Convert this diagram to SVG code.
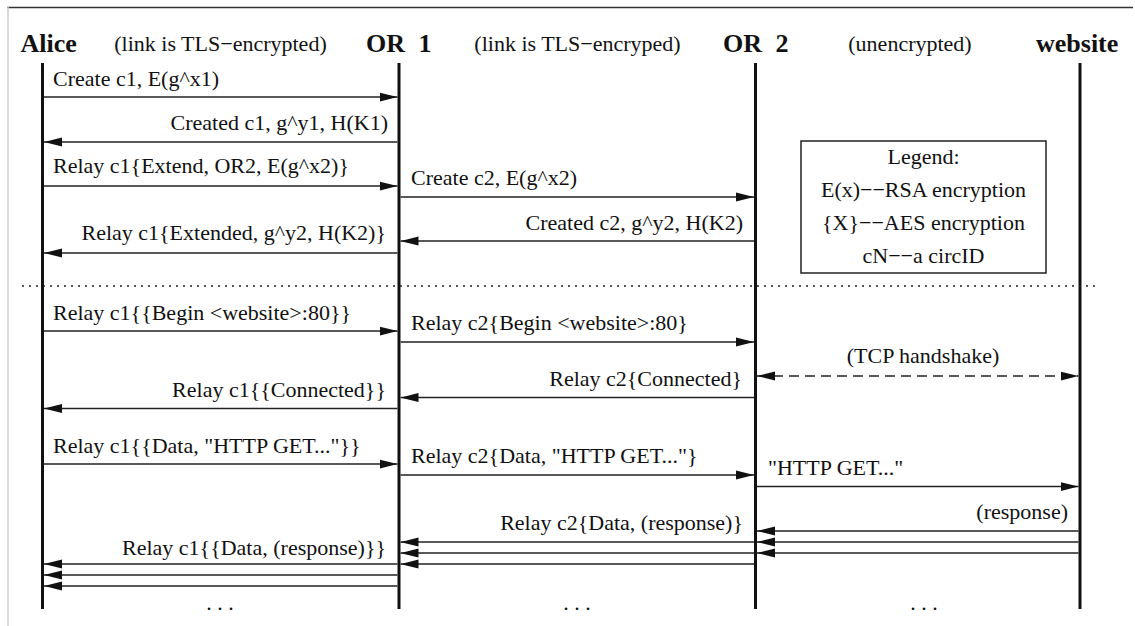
<svg xmlns="http://www.w3.org/2000/svg" width="1135" height="626" viewBox="0 0 1135 626">
  <style>
    text { font-family: "Liberation Serif", "Times New Roman", serif; fill: #111; }
    .hdr { font-size: 26px; font-weight: bold; }
    .note { font-size: 22px; }
    .lbl { font-size: 22px; }
    .end { text-anchor: end; }
    .mid { text-anchor: middle; }
    .life { stroke: #111; stroke-width: 3; }
    .msg { stroke: #222; stroke-width: 1.6; fill: none; marker-end: url(#head); }
    .dash { stroke: #222; stroke-width: 1.6; fill: none; stroke-dasharray: 10 6; marker-start: url(#head); marker-end: url(#head); }
  </style>
  <defs>
    <marker id="head" markerUnits="userSpaceOnUse" markerWidth="18" markerHeight="10" refX="18" refY="5" orient="auto-start-reverse">
      <path d="M0,0.5 L18,5 L0,9.5 z" fill="#111"/>
    </marker>
  </defs>

  <rect width="1135" height="626" fill="#fff"/>
  <!-- page frame -->
  <line x1="7" y1="7.5" x2="1133" y2="7.5" stroke="#333" stroke-width="1.5"/>
  <line x1="8" y1="7" x2="8" y2="626" stroke="#ccc" stroke-width="1.5"/>

  <!-- participants -->
  <g id="alice">
    <text class="hdr" x="20.5" y="51.5">Alice</text>
    <line class="life" x1="42.5" y1="63" x2="42.5" y2="609"/>
  </g>
  <g id="or1">
    <text class="hdr" x="366" y="51.5" word-spacing="7">OR 1</text>
    <line class="life" x1="399" y1="63" x2="399" y2="609"/>
  </g>
  <g id="or2">
    <text class="hdr" x="723" y="51.5" word-spacing="7">OR 2</text>
    <line class="life" x1="755.5" y1="63" x2="755.5" y2="609"/>
  </g>
  <g id="website">
    <text class="hdr" x="1036" y="51.5">website</text>
    <line class="life" x1="1080" y1="63" x2="1080" y2="609"/>
  </g>

  <!-- link annotations -->
  <g id="links">
    <text class="note mid" x="220.5" y="51">(link is TLS−encrypted)</text>
    <text class="note mid" x="577.5" y="51">(link is TLS−encryped)</text>
    <text class="note mid" x="910" y="51">(unencrypted)</text>
  </g>

  <!-- legend -->
  <g id="legend">
    <rect x="801" y="141" width="245" height="132" fill="#fff" stroke="#222" stroke-width="1.5"/>
    <text class="lbl mid" x="923.5" y="164">Legend:</text>
    <text class="lbl mid" x="923.5" y="197">E(x)−−RSA encryption</text>
    <text class="lbl mid" x="923.5" y="230">{X}−−AES encryption</text>
    <text class="lbl mid" x="923.5" y="263">cN−−a circID</text>
  </g>

  <!-- phase separator -->
  <line x1="22" y1="286" x2="1097" y2="286" stroke="#222" stroke-width="1.5" stroke-dasharray="2 5"/>

  <!-- messages -->
  <g id="connectors">
    <line class="msg" x1="44" y1="97" x2="397.5" y2="97"/>
    <line class="msg" x1="397.5" y1="142" x2="44" y2="142"/>
    <line class="msg" x1="44" y1="186" x2="397.5" y2="186"/>
    <line class="msg" x1="400.5" y1="197" x2="754" y2="197"/>
    <line class="msg" x1="754" y1="241" x2="400.5" y2="241"/>
    <line class="msg" x1="397.5" y1="253" x2="44" y2="253"/>

    <line class="msg" x1="44" y1="331" x2="397.5" y2="331"/>
    <line class="msg" x1="400.5" y1="342" x2="754" y2="342"/>
    <line class="dash" x1="757" y1="376" x2="1078.5" y2="376"/>
    <line class="msg" x1="754" y1="397.5" x2="400.5" y2="397.5"/>
    <line class="msg" x1="397.5" y1="408.5" x2="44" y2="408.5"/>

    <line class="msg" x1="44" y1="464" x2="397.5" y2="464"/>
    <line class="msg" x1="400.5" y1="475" x2="754" y2="475"/>
    <line class="msg" x1="757" y1="486.5" x2="1078.5" y2="486.5"/>

    <line class="msg" x1="1078.5" y1="531" x2="757" y2="531"/>
    <line class="msg" x1="1078.5" y1="542" x2="757" y2="542"/>
    <line class="msg" x1="1078.5" y1="553" x2="757" y2="553"/>
    <line class="msg" x1="754" y1="542" x2="400.5" y2="542"/>
    <line class="msg" x1="754" y1="553" x2="400.5" y2="553"/>
    <line class="msg" x1="754" y1="564" x2="400.5" y2="564"/>
    <line class="msg" x1="397.5" y1="564" x2="44" y2="564"/>
    <line class="msg" x1="397.5" y1="575" x2="44" y2="575"/>
    <line class="msg" x1="397.5" y1="586" x2="44" y2="586"/>
  </g>

  <!-- message labels -->
  <g id="labels">
    <text class="lbl" x="53" y="85.5">Create c1, E(g^x1)</text>
    <text class="lbl end" x="388" y="130">Created c1, g^y1, H(K1)</text>
    <text class="lbl" x="53" y="173">Relay c1{Extend, OR2, E(g^x2)}</text>
    <text class="lbl" x="411" y="185">Create c2, E(g^x2)</text>
    <text class="lbl end" x="743" y="230">Created c2, g^y2, H(K2)</text>
    <text class="lbl end" x="386" y="240">Relay c1{Extended, g^y2, H(K2)}</text>

    <text class="lbl" x="53" y="320">Relay c1{{Begin &lt;website&gt;:80}}</text>
    <text class="lbl" x="411" y="330">Relay c2{Begin &lt;website&gt;:80}</text>
    <text class="lbl mid" x="923" y="363">(TCP handshake)</text>
    <text class="lbl end" x="742" y="386">Relay c2{Connected}</text>
    <text class="lbl end" x="386" y="397">Relay c1{{Connected}}</text>

    <text class="lbl" x="53" y="453">Relay c1{{Data, "HTTP GET..."}}</text>
    <text class="lbl" x="411" y="463">Relay c2{Data, "HTTP GET..."}</text>
    <text class="lbl" x="768" y="475">"HTTP GET..."</text>

    <text class="lbl end" x="1068" y="519">(response)</text>
    <text class="lbl end" x="743" y="530">Relay c2{Data, (response)}</text>
    <text class="lbl end" x="386" y="555">Relay c1{{Data, (response)}}</text>

    <text class="lbl mid" x="220" y="610">. . .</text>
    <text class="lbl mid" x="577" y="610">. . .</text>
    <text class="lbl mid" x="924" y="610">. . .</text>
  </g>
</svg>
